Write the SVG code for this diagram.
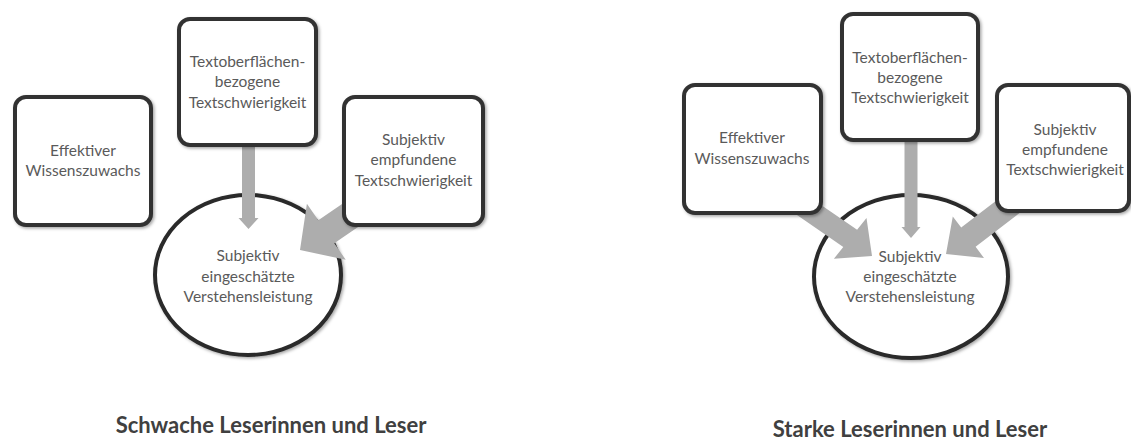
<svg xmlns="http://www.w3.org/2000/svg" width="1131" height="443" viewBox="0 0 1131 443">
<style>
.box{fill:#fff;stroke:#333;stroke-width:4}
.ell{fill:#fff;stroke:#2a2a2a;stroke-width:4}
.arr{fill:#adadad}
.t{font-family:Lato,"Liberation Sans",sans-serif;font-size:15.5px;fill:#5a5a5a;text-anchor:middle}
.title{font-family:Lato,"Liberation Sans",sans-serif;font-size:22px;font-weight:bold;fill:#404040;text-anchor:middle}
</style>
<defs>
<filter id="sh" x="-10%" y="-10%" width="130%" height="130%">
<feDropShadow dx="1.5" dy="1.5" stdDeviation="1.5" flood-color="#000" flood-opacity="0.35"/>
</filter>
</defs>
<rect width="1131" height="443" fill="#fff"/>
<g id="circleL"><ellipse class="ell" cx="248" cy="275" rx="93" ry="80" filter="url(#sh)"/></g>
<g id="circleR"><ellipse class="ell" cx="911" cy="276.5" rx="97" ry="81.5" filter="url(#sh)"/></g>
<g id="connectors">
<polygon class="arr" points="242,140 255,140 255,218 258.5,218 248.5,229 238.5,218 242,218"/>
<polygon class="arr" points="300,250 345.7,259.8 334.3,243.3 388,206.5 372,183.5 318.3,220.3 306.9,203.8"/>
<polygon class="arr" points="904.5,135 917.5,135 917.5,227 920.5,227 911,238 901.5,227 904.5,227"/>
<polygon class="arr" points="872,256 833.9,258.7 843.3,247 773.1,198.6 786.9,181.4 857.1,229.8 866.5,218.1"/>
<polygon class="arr" points="946,254 984,258 975.6,246.8 1037.2,199.6 1022.8,180.4 961.2,227.6 952.8,216.4"/>
</g>
<g id="boxL1"><rect class="box" x="15" y="97" width="136" height="128" rx="11" filter="url(#sh)"/>
<text class="t" x="83" y="156">Effektiver</text><text class="t" x="83" y="176">Wissenszuwachs</text></g>
<g id="boxL2"><rect class="box" x="179" y="19" width="137" height="126" rx="11" filter="url(#sh)"/>
<text class="t" x="247.5" y="67">Textoberflächen-</text><text class="t" x="247.5" y="87">bezogene</text><text class="t" x="247.5" y="108">Textschwierigkeit</text></g>
<g id="boxL3"><rect class="box" x="344" y="97" width="139" height="128" rx="11" filter="url(#sh)"/>
<text class="t" x="413.5" y="145">Subjektiv</text><text class="t" x="413.5" y="165">empfundene</text><text class="t" x="413.5" y="186">Textschwierigkeit</text></g>
<g id="textCL"><text class="t" x="248" y="261">Subjektiv</text><text class="t" x="248" y="282">eingeschätzte</text><text class="t" x="248" y="302">Verstehensleistung</text></g>
<g id="boxR1"><rect class="box" x="684" y="85" width="137" height="128" rx="11" filter="url(#sh)"/>
<text class="t" x="752" y="143">Effektiver</text><text class="t" x="752" y="164">Wissenszuwachs</text></g>
<g id="boxR2"><rect class="box" x="842" y="14" width="136" height="126" rx="11" filter="url(#sh)"/>
<text class="t" x="910" y="63">Textoberflächen-</text><text class="t" x="910" y="83">bezogene</text><text class="t" x="910" y="103">Textschwierigkeit</text></g>
<g id="boxR3"><rect class="box" x="997" y="85" width="132" height="126" rx="11" filter="url(#sh)"/>
<text class="t" x="1065" y="135">Subjektiv</text><text class="t" x="1065" y="155">empfundene</text><text class="t" x="1065" y="175">Textschwierigkeit</text></g>
<g id="textCR"><text class="t" x="910" y="262">Subjektiv</text><text class="t" x="910" y="282">eingeschätzte</text><text class="t" x="910" y="302">Verstehensleistung</text></g>
<text class="title" x="271" y="433">Schwache Leserinnen und Leser</text>
<text class="title" x="910" y="437">Starke Leserinnen und Leser</text>
</svg>
